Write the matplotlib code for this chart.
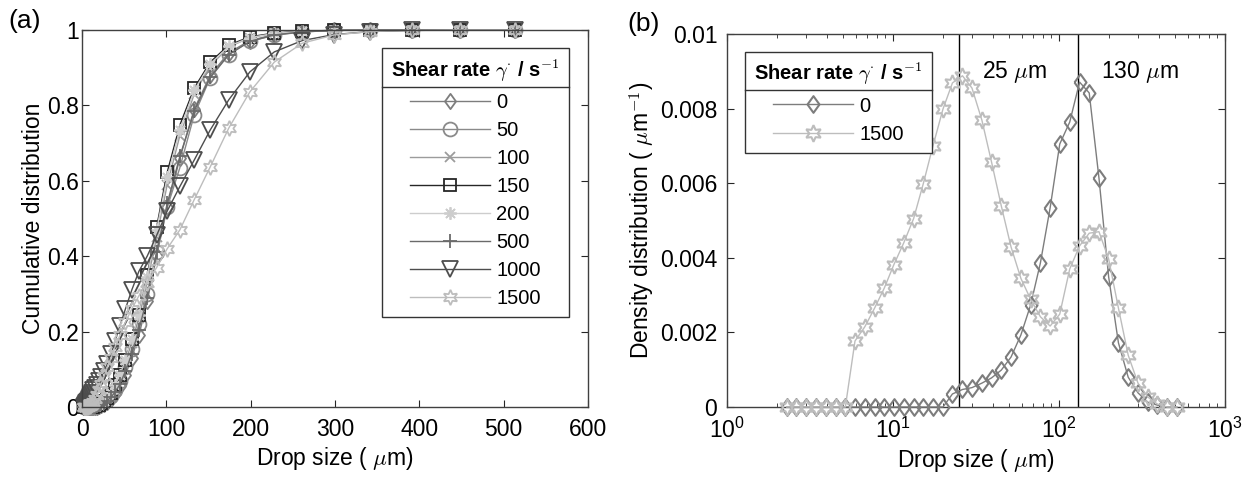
import numpy as np
import matplotlib
matplotlib.use('Agg')
import matplotlib.pyplot as plt
from matplotlib.lines import Line2D
from matplotlib.transforms import IdentityTransform

plt.rcParams['font.family'] = ['Liberation Sans', 'DejaVu Sans']
plt.rcParams['mathtext.fontset'] = 'cm'

# drop size bins (um), shared by both panels
drop_size = [2.29, 2.62, 3.00, 3.44, 3.94, 4.51, 5.16, 5.90, 6.76, 7.74,
             8.86, 10.1, 11.6, 13.3, 15.2, 17.4, 20.0, 22.8, 26.2, 29.9,
             34.3, 39.2, 44.9, 51.4, 58.9, 67.4, 77.2, 88.4, 101, 116,
             133, 152, 174, 199, 228, 261, 299, 342, 391, 448, 513]

shear_labels = ['0', '50', '100', '150', '200', '500', '1000', '1500']

# cumulative distributions (panel a)
cum_0 = [0, 0, 0, 0, 0, 0, 0, 0, 0, 0, 0, 0, 0, 0, 0, 0.001, 0.003, 0.005, 0.009, 0.014,
         0.022, 0.035, 0.055, 0.085, 0.13, 0.19, 0.28, 0.40, 0.53, 0.66, 0.79, 0.88,
         0.94, 0.972, 0.988, 0.996, 0.999, 1, 1, 1, 1]
cum_50 = [0, 0, 0, 0, 0, 0, 0, 0, 0, 0, 0, 0, 0, 0, 0.001, 0.002, 0.004, 0.007, 0.012, 0.019,
          0.03, 0.045, 0.07, 0.105, 0.155, 0.22, 0.30, 0.41, 0.53, 0.635, 0.775, 0.873,
          0.935, 0.97, 0.986, 0.995, 0.999, 1, 1, 1, 1]
cum_100 = [0, 0, 0, 0, 0, 0, 0, 0, 0, 0, 0, 0, 0, 0.001, 0.002, 0.003, 0.005, 0.009, 0.015, 0.023,
           0.036, 0.055, 0.08, 0.12, 0.17, 0.235, 0.33, 0.45, 0.59, 0.72, 0.83, 0.905,
           0.955, 0.98, 0.991, 0.997, 0.999, 1, 1, 1, 1]
cum_150 = [0, 0, 0, 0, 0, 0, 0, 0, 0, 0, 0, 0, 0, 0.001, 0.002, 0.004, 0.006, 0.010, 0.016, 0.025,
           0.038, 0.058, 0.085, 0.125, 0.18, 0.244, 0.35, 0.477, 0.623, 0.748, 0.846, 0.915,
           0.96, 0.982, 0.992, 0.997, 0.999, 1, 1, 1, 1]
cum_200 = [0, 0, 0, 0, 0, 0, 0, 0, 0, 0, 0, 0, 0, 0.001, 0.002, 0.004, 0.006, 0.010, 0.016, 0.025,
           0.038, 0.058, 0.085, 0.125, 0.18, 0.245, 0.345, 0.47, 0.61, 0.735, 0.84, 0.91,
           0.957, 0.98, 0.991, 0.997, 0.999, 1, 1, 1, 1]
cum_500 = [0, 0, 0, 0, 0, 0, 0, 0, 0, 0, 0, 0, 0, 0, 0.001, 0.002, 0.004, 0.007, 0.011, 0.017,
           0.026, 0.04, 0.06, 0.095, 0.14, 0.205, 0.29, 0.41, 0.54, 0.665, 0.785, 0.875,
           0.935, 0.97, 0.987, 0.995, 0.999, 1, 1, 1, 1]
cum_1000 = [0, 0.001, 0.002, 0.003, 0.005, 0.007, 0.01, 0.013, 0.017, 0.021, 0.026, 0.031, 0.037,
            0.044, 0.05, 0.058, 0.068, 0.08, 0.095, 0.115, 0.14, 0.175, 0.215, 0.26, 0.31,
            0.36, 0.40, 0.455, 0.52, 0.585, 0.655, 0.735, 0.815, 0.889, 0.942, 0.972,
            0.988, 0.996, 0.999, 1, 1]
cum_1500 = [0, 0, 0, 0, 0, 0, 0, 0.0005, 0.001, 0.002, 0.003, 0.005, 0.009, 0.014, 0.022, 0.032,
            0.045, 0.062, 0.082, 0.105, 0.13, 0.16, 0.19, 0.225, 0.26, 0.295, 0.33, 0.37,
            0.42, 0.47, 0.55, 0.637, 0.74, 0.836, 0.915, 0.965, 0.987, 0.996, 0.999, 1, 1]

# density distributions (panel b), um^-1
dens_0 = [0, 0, 0, 0, 0, 0, 0, 0, 0, 0, 0, 0, 0, 0, 0, 0, 0, 0.00035, 0.00047, 0.00052,
          0.00064, 0.00078, 0.00099, 0.00134, 0.00193, 0.00273, 0.00386, 0.00534, 0.00705,
          0.00764, 0.00871, 0.00842, 0.00614, 0.00349, 0.00172, 0.0008, 0.00038, 0.00013,
          0.00005, 0, 0]
dens_1500 = [0, 0, 0, 0, 0, 0, 0, 0.00177, 0.00215, 0.00265, 0.00319, 0.00381, 0.0044, 0.00505,
             0.00598, 0.007, 0.00799, 0.00869, 0.00888, 0.00855, 0.00769, 0.00657, 0.00539,
             0.00429, 0.00345, 0.00289, 0.00242, 0.00217, 0.00249, 0.0037, 0.00432, 0.00466,
             0.0047, 0.00397, 0.00265, 0.00139, 0.00064, 0.00027, 0.00008, 0, 0]

peak_sizes = [25, 130]
peak_labels = [r'25 $\mu$m', r'130 $\mu$m']
peak_label_x = [54, 308]

cum_series = [cum_0, cum_50, cum_100, cum_150, cum_200, cum_500, cum_1000, cum_1500]
colors = ['#7d7d7d', '#8a8a8a', '#9c9c9c', '#262626', '#cdcdcd', '#6a6a6a', '#4d4d4d', '#bdbdbd']
diamond = [(-0.72, 0), (0, 1), (0.72, 0), (0, -1), (-0.72, 0)]
markers = [diamond, 'o', 'x', 's', (8, 2, 0), '+', 'v', (6, 1, 0)]
msizes = [11, 10, 7, 8, 9, 10, 12, 11]

FS = 16.5

fig = plt.figure(figsize=(12.49, 4.79), dpi=100)
ax1 = fig.add_axes([0.0657, 0.1503, 0.4051, 0.787])
ax2 = fig.add_axes([0.5821, 0.1503, 0.3987, 0.7787])

legend_title = r'Shear rate $\gamma^{\cdot}$ / s$^{\mathbf{-1}}$'

for ys, lab, c, m, ms in zip(cum_series, shear_labels, colors, markers, msizes):
    ax1.plot(drop_size, ys, color=c, lw=1.0, marker=m, ms=ms, mfc='none', mec=c,
             mew=1.3, label=lab, clip_on=False)

ax1.set_xlim(0, 600)
ax1.set_ylim(0, 1)
ax1.set_xticks([0, 100, 200, 300, 400, 500, 600])
ax1.set_yticks([0, 0.2, 0.4, 0.6, 0.8, 1])
ax1.set_yticklabels(['0', '0.2', '0.4', '0.6', '0.8', '1'])
ax1.set_xlabel(r'Drop size ( $\mu$m)', fontsize=FS, labelpad=3)
ax1.set_ylabel('Cumulative distribution', fontsize=FS, labelpad=2)

leg1 = ax1.legend(loc='upper right', bbox_to_anchor=(0.962, 0.952), title=legend_title,
                  title_fontproperties={'weight': 'bold', 'size': 14.5}, fontsize=14.5,
                  numpoints=1, handlelength=4.0, handletextpad=0.3, labelspacing=0.45,
                  fancybox=False, framealpha=1, edgecolor='#333333', borderpad=0.45,
                  borderaxespad=0)
leg1.get_frame().set_linewidth(1.0)

# panel b
ax2.semilogx(drop_size, dens_0, color=colors[0], lw=1.0, marker=diamond, ms=12,
             mfc='none', mec=colors[0], mew=1.5, label='0', clip_on=False, zorder=3)
ax2.semilogx(drop_size, dens_1500, color=colors[7], lw=1.0, marker=(6, 1, 0), ms=12,
             mfc='none', mec=colors[7], mew=1.5, label='1500', clip_on=False, zorder=3)
for xs in peak_sizes:
    ax2.axvline(xs, color='black', lw=1.0, zorder=2)
for xt, txt in zip(peak_label_x, peak_labels):
    ax2.text(xt, 0.00898, txt, ha='center', va='center', fontsize=FS)
ax2.set_xlim(1, 1000)
ax2.set_ylim(0, 0.01)
ax2.set_yticks([0, 0.002, 0.004, 0.006, 0.008, 0.01])
ax2.set_yticklabels(['0', '0.002', '0.004', '0.006', '0.008', '0.01'])
ax2.set_xlabel(r'Drop size ( $\mu$m)', fontsize=FS, labelpad=3)
ax2.set_ylabel(r'Density distribution ( $\mu$m$^{\mathsf{-1}}$)', fontsize=FS, labelpad=2)

leg2 = ax2.legend(loc='upper left', bbox_to_anchor=(0.036, 0.952), title=legend_title,
                  title_fontproperties={'weight': 'bold', 'size': 14.5}, fontsize=14.5,
                  numpoints=1, handlelength=4.0, handletextpad=0.3, labelspacing=0.45,
                  fancybox=False, framealpha=1, edgecolor='#333333', borderpad=0.45,
                  borderaxespad=0)
leg2.get_frame().set_linewidth(1.0)

for ax in (ax1, ax2):
    ax.tick_params(which='both', direction='in', top=True, right=True, labelsize=FS,
                   colors='#262626', labelcolor='black')
    ax.tick_params(which='major', length=5)
    ax.tick_params(which='minor', length=3)
    ax.tick_params(axis='x', which='both', pad=8)
    for sp in ax.spines.values():
        sp.set_color('#404040')
        sp.set_linewidth(1.0)
ax1.tick_params(axis='y', pad=2)
ax2.tick_params(axis='y', pad=7)

fig.text(0.007, 0.982, '(a)', fontsize=19, va='top')
fig.text(0.502, 0.975, '(b)', fontsize=19, va='top')

# separator line under legend titles, like the original
fig.canvas.draw()
renderer = fig.canvas.get_renderer()
for leg in (leg1, leg2):
    fb = leg.get_frame().get_window_extent(renderer)
    tb = leg.get_title().get_window_extent(renderer)
    yline = tb.y0 - 3
    fig.add_artist(Line2D([fb.x0, fb.x1], [yline, yline], transform=IdentityTransform(),
                          color='#333333', lw=1.0))

fig.savefig('out.png', dpi=100)
